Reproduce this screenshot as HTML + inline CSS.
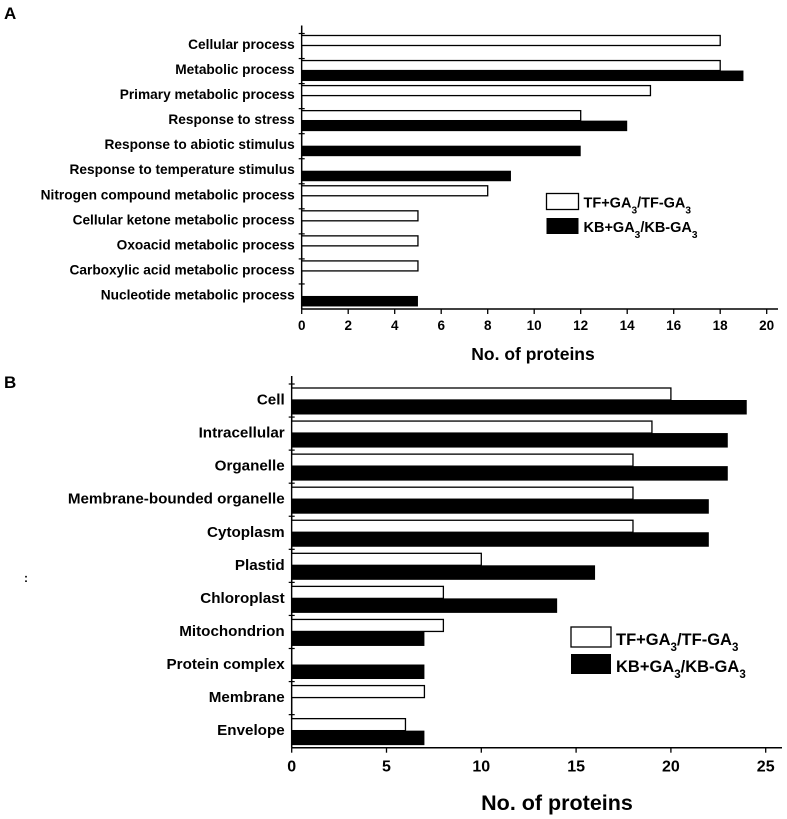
<!DOCTYPE html>
<html><head><meta charset="utf-8"><style>
html,body{margin:0;padding:0;background:#fff;}
svg{display:block;font-family:"Liberation Sans",Arial,sans-serif;font-weight:bold;}
</style></head><body>
<svg id="svg" width="787" height="819" viewBox="0 0 787 819" xmlns="http://www.w3.org/2000/svg">
<text x="4" y="19" font-size="17">A</text>
<text x="4" y="388" font-size="17">B</text>
<text x="24" y="582" font-size="12">:</text>
<g id="gA"></g>
<g id="gB"></g>
</svg>
<script>
const catsA = ["Cellular process","Metabolic process","Primary metabolic process","Response to stress","Response to abiotic stimulus","Response to temperature stimulus","Nitrogen compound metabolic process","Cellular ketone metabolic process","Oxoacid metabolic process","Carboxylic acid metabolic process","Nucleotide metabolic process"];
const tfA = [18,18,15,12,0,0,8,5,5,5,0];
const kbA = [0,19,0,14,12,9,0,0,0,0,5];
const ticksA = [0,2,4,6,8,10,12,14,16,18,20];

const catsB = ["Cell","Intracellular","Organelle","Membrane-bounded organelle","Cytoplasm","Plastid","Chloroplast","Mitochondrion","Protein complex","Membrane","Envelope"];
const tfB = [20,19,18,18,18,10,8,8,0,7,6];
const kbB = [24,23,23,22,22,16,14,7,7,0,7];
const ticksB = [0,5,10,15,20,25];

const NS="http://www.w3.org/2000/svg";
function mk(parent,tag,attrs,text){const e=document.createElementNS(NS,tag);for(const k in attrs)e.setAttribute(k,attrs[k]);if(text!==undefined)e.textContent=text;parent.appendChild(e);return e;}

function drawChart(g,cfg){
  const xs=v=>cfg.x0+v*(cfg.x1-cfg.x0)/cfg.xmax;
  const band=(cfg.yBot-cfg.yTop)/cfg.cats.length;
  const yb=i=>cfg.yTop+i*band;
  const ya=mk(g,'line',{x1:cfg.x0,y1:cfg.yTop-8,x2:cfg.x0,y2:cfg.yBot,stroke:'#000','stroke-width':1.5});
  
  
  const xa=mk(g,'line',{x1:cfg.x0,y1:cfg.yBot,x2:cfg.xEnd,y2:cfg.yBot,stroke:'#000','stroke-width':1.5});
  
  
  cfg.cats.forEach((c,i)=>{
    const t=yb(i);
    mk(g,'line',{x1:cfg.x0-3,y1:t,x2:cfg.x0+3,y2:t,stroke:'#000','stroke-width':1.2});
    const lab=mk(g,'text',{x:cfg.x0-7,y:t+cfg.labOff,'font-size':cfg.labFs,'text-anchor':'end'},c);
    
    
    if(cfg.tf[i]>0){
      const r=mk(g,'rect',{x:cfg.x0,y:t+cfg.wOff,width:xs(cfg.tf[i])-cfg.x0,height:cfg.wH,fill:'#fff',stroke:'#000','stroke-width':1.3});
      
      
    }
    if(cfg.kb[i]>0){
      const r=mk(g,'rect',{x:cfg.x0,y:t+cfg.bOff,width:xs(cfg.kb[i])-cfg.x0,height:cfg.bH,fill:'#000'});
      
      
    }
  });
  cfg.ticks.forEach(v=>{
    const x=xs(v);
    mk(g,'line',{x1:x,y1:cfg.yBot,x2:x,y2:cfg.yBot+5,stroke:'#000','stroke-width':1.3});
    const tl=mk(g,'text',{x:x,y:cfg.yBot+cfg.tickOff,'font-size':cfg.tickFs,'text-anchor':'middle'},String(v));
    
    
  });
  const tt=mk(g,'text',{x:cfg.titleX,y:cfg.titleY,'font-size':cfg.titleFs,'text-anchor':'middle'},'No. of proteins');
  
  
  const L=cfg.leg;
  const r1=mk(g,'rect',{x:L.x,y:L.y1,width:L.w,height:L.h,fill:'#fff',stroke:'#000','stroke-width':1.3});
  
  
  const t1=mk(g,'text',{x:L.x+L.w+5,y:L.y1+L.h-2,'font-size':L.fs});
  
  
  t1.innerHTML='TF+GA<tspan baseline-shift="sub" font-size="'+(L.fs*0.7)+'">3</tspan>/TF-GA<tspan baseline-shift="sub" font-size="'+(L.fs*0.7)+'">3</tspan>';
  const r2=mk(g,'rect',{x:L.x,y:L.y2,width:L.w,height:L.h,fill:'#000'});
  
  
  const t2=mk(g,'text',{x:L.x+L.w+5,y:L.y2+L.h-2,'font-size':L.fs});
  
  
  t2.innerHTML='KB+GA<tspan baseline-shift="sub" font-size="'+(L.fs*0.7)+'">3</tspan>/KB-GA<tspan baseline-shift="sub" font-size="'+(L.fs*0.7)+'">3</tspan>';
}

drawChart(document.getElementById('gA'),{cats:catsA,tf:tfA,kb:kbA,ticks:ticksA,xmax:20,
  x0:301.7,x1:766.7,xEnd:778,yTop:33.5,yBot:309,labOff:15.5,labFs:13.7,
  wOff:2,wH:10,bOff:12,bH:10.5,tickOff:21,tickFs:13.5,titleX:533,titleY:360,titleFs:17.5,
  leg:{x:546.5,y1:193.5,y2:218,w:32,h:16,fs:14.5}});
drawChart(document.getElementById('gB'),{cats:catsB,tf:tfB,kb:kbB,ticks:ticksB,xmax:25,
  x0:291.7,x1:765.7,xEnd:782,yTop:384,yBot:747.7,labOff:20.5,labFs:15.2,
  wOff:4,wH:12,bOff:16,bH:14.5,tickOff:24,tickFs:16,titleX:557,titleY:810,titleFs:21.5,
  leg:{x:571,y1:627,y2:654,w:40,h:20,fs:16.5}});
</script>
</body></html>
